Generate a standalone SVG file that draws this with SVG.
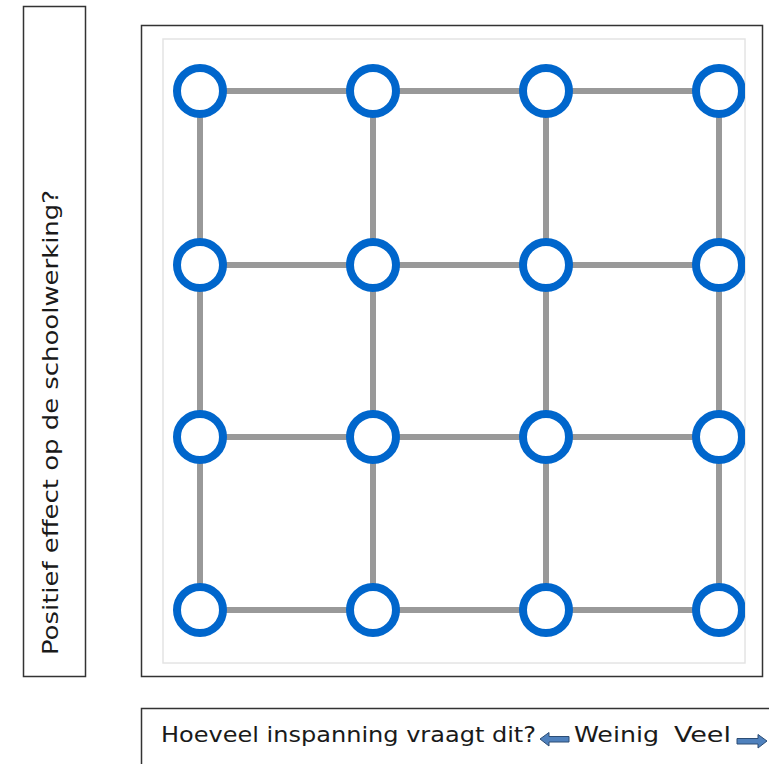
<svg xmlns="http://www.w3.org/2000/svg" width="769" height="764" viewBox="0 0 769 764">
<style>
.box{fill:#fff;stroke:#333;stroke-width:1.5}
.lbl{font-family:"DejaVu Sans","Liberation Sans",sans-serif;font-stretch:condensed;font-size:22px;fill:#1a1a1a}
.edge{stroke:#999;stroke-width:6;stroke-linecap:butt}
.node{fill:#fff;stroke:#0066cc;stroke-width:8}
.arr{fill:#4f81bd;stroke:#2c4d75;stroke-width:1}
</style>
<defs>
<clipPath id="clip"><rect x="163" y="39" width="582" height="624"/></clipPath>
<filter id="soft" x="-5%" y="-5%" width="110%" height="110%"><feGaussianBlur stdDeviation="0.6"/></filter>
</defs>
<rect id="ylabel-box" class="box" x="23.5" y="6.5" width="62" height="670"/>
<g id="ylabel"><text class="lbl" transform="translate(58,655) rotate(-90)" textLength="465" lengthAdjust="spacingAndGlyphs">Positief effect op de schoolwerking?</text></g>
<rect id="main-box" class="box" x="141.5" y="25.5" width="621" height="651"/>
<rect x="163" y="39" width="582" height="624" fill="none" stroke="#e4e4e4" stroke-width="1.5"/>
<g clip-path="url(#clip)" filter="url(#soft)">
<g id="connectors">
<line class="edge" x1="200" y1="91" x2="719" y2="91"/>
<line class="edge" x1="200" y1="265" x2="719" y2="265"/>
<line class="edge" x1="200" y1="437" x2="719" y2="437"/>
<line class="edge" x1="200" y1="610" x2="719" y2="610"/>
<line class="edge" x1="200" y1="91" x2="200" y2="610"/>
<line class="edge" x1="373" y1="91" x2="373" y2="610"/>
<line class="edge" x1="546" y1="91" x2="546" y2="610"/>
<line class="edge" x1="719" y1="91" x2="719" y2="610"/>
</g>
<g id="n11"><circle class="node" cx="200" cy="91" r="23"/></g>
<g id="n12"><circle class="node" cx="373" cy="91" r="23"/></g>
<g id="n13"><circle class="node" cx="546" cy="91" r="23"/></g>
<g id="n14"><circle class="node" cx="719" cy="91" r="23"/></g>
<g id="n21"><circle class="node" cx="200" cy="265" r="23"/></g>
<g id="n22"><circle class="node" cx="373" cy="265" r="23"/></g>
<g id="n23"><circle class="node" cx="546" cy="265" r="23"/></g>
<g id="n24"><circle class="node" cx="719" cy="265" r="23"/></g>
<g id="n31"><circle class="node" cx="200" cy="437" r="23"/></g>
<g id="n32"><circle class="node" cx="373" cy="437" r="23"/></g>
<g id="n33"><circle class="node" cx="546" cy="437" r="23"/></g>
<g id="n34"><circle class="node" cx="719" cy="437" r="23"/></g>
<g id="n41"><circle class="node" cx="200" cy="610" r="23"/></g>
<g id="n42"><circle class="node" cx="373" cy="610" r="23"/></g>
<g id="n43"><circle class="node" cx="546" cy="610" r="23"/></g>
<g id="n44"><circle class="node" cx="719" cy="610" r="23"/></g>
</g>
<g id="xlabel">
<rect class="box" x="141.5" y="708.5" width="640" height="70"/>
<text class="lbl" x="161" y="742" textLength="375" lengthAdjust="spacingAndGlyphs">Hoeveel inspanning vraagt dit?</text>
<polygon class="arr" points="540,739 549,732.5 549,736.5 569,736.5 569,742 549,742 549,746"/>
<text class="lbl" x="574" y="742" textLength="85" lengthAdjust="spacingAndGlyphs">Weinig</text>
<text class="lbl" x="674" y="742" textLength="57" lengthAdjust="spacingAndGlyphs">Veel</text>
<polygon class="arr" points="767,741 758,734.5 758,738.5 737,738.5 737,744 758,744 758,748"/>
</g>
</svg>
